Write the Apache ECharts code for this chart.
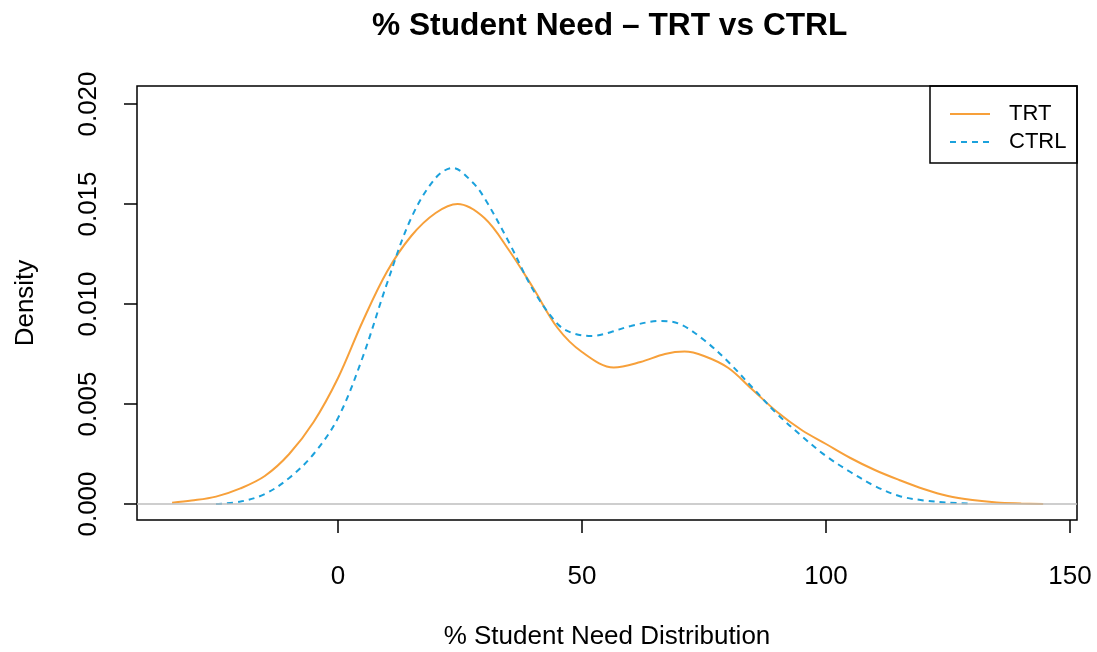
<!DOCTYPE html>
<html>
<head>
<meta charset="utf-8">
<script src="https://cdn.jsdelivr.net/npm/echarts@6/dist/echarts.min.js"></script>
<style>html,body{margin:0;padding:0;background:#fff}#c{width:1097px;height:652px}</style>
</head>
<body>
<div id="c"></div>
<script>
var trtX = [-34, -30, -25, -20, -15, -10, -5, 0, 5, 10, 15, 20, 24.5, 30, 35, 40, 45, 50, 56.5, 62, 67, 71, 75, 80, 85, 90, 95, 100, 105, 110, 115, 120, 125, 130, 135, 140, 144.5];
var trtY = [0.00006, 0.00017, 0.00037, 0.00078, 0.0014, 0.0025, 0.0041, 0.0063, 0.0091, 0.0116, 0.0134, 0.01455, 0.0150, 0.0143, 0.0127, 0.0108, 0.0088, 0.0076, 0.00683, 0.0071, 0.0075, 0.00762, 0.0074, 0.0068, 0.0057, 0.0046, 0.0037, 0.0030, 0.0023, 0.0017, 0.0012, 0.00075, 0.0004, 0.0002, 0.00008, 0.00003, 0.0];
var ctrlX = [-25, -20, -15, -10, -5, 0, 5, 10, 15, 20, 23.5, 27.5, 30, 35, 40, 45, 48, 52, 56, 60, 66, 70, 75, 80, 85, 90, 95, 100, 105, 110, 115, 120, 125, 130];
var ctrlY = [0.0, 0.00012, 0.0005, 0.0013, 0.0025, 0.0043, 0.0073, 0.0110, 0.0143, 0.0163, 0.0168, 0.0161, 0.0153, 0.0131, 0.0107, 0.0090, 0.00855, 0.0084, 0.0086, 0.0089, 0.00915, 0.0090, 0.0082, 0.0071, 0.0058, 0.0045, 0.0034, 0.0024, 0.0016, 0.0009, 0.0004, 0.00018, 0.00007, 0.00001];
var xTicks = [0, 50, 100, 150];
var yTicks = [0, 0.005, 0.010, 0.015, 0.020];
var seriesNames = ['TRT', 'CTRL'];
var FONT = "'Liberation Sans', Arial, sans-serif";

function pairs(xs, ys) { return xs.map(function (x, i) { return [x, ys[i]]; }); }

var chart = echarts.init(document.getElementById('c'), null, {renderer: 'canvas'});
chart.setOption({
  animation: false,
  backgroundColor: '#fff',
  title: {
    text: '% Student Need \u2013 TRT vs CTRL',
    left: 367, top: 5,
    textStyle: {fontFamily: FONT, fontSize: 31.7, fontWeight: 'bold', color: '#000'}
  },
  grid: {left: 137, right: 20, top: 86, bottom: 132, show: true, borderColor: '#000', borderWidth: 1.5,
    backgroundColor: 'transparent', containLabel: false, outerBoundsMode: 'none'},
  legend: {
    orient: 'vertical', left: 949, top: 103, padding: 0,
    itemWidth: 40, itemHeight: 14, itemGap: 6,
    itemStyle: {opacity: 0},
    data: seriesNames,
    textStyle: {fontFamily: FONT, fontSize: 22, lineHeight: 22, color: '#000', padding: [0, 0, 0, 14]}
  },
  graphic: [{type: 'rect', shape: {x: 930, y: 86, width: 147, height: 77}, style: {fill: 'none', stroke: '#000', lineWidth: 1.5}, z: 100}],
  xAxis: {
    type: 'value', min: -41.19, max: 151.43,
    name: '% Student Need Distribution', nameLocation: 'middle', nameGap: 104,
    nameTextStyle: {fontFamily: FONT, fontSize: 26, color: '#000'},
    axisLine: {show: false, onZero: false},
    axisTick: {show: true, length: 13, customValues: xTicks, lineStyle: {color: '#000', width: 1.5}},
    axisLabel: {customValues: xTicks, fontFamily: FONT, fontSize: 26, color: '#000', margin: 44},
    splitLine: {show: false}
  },
  yAxis: {
    type: 'value', min: -0.0008, max: 0.0209,
    name: 'Density', nameLocation: 'middle', nameGap: 98, nameRotate: 90,
    nameTextStyle: {fontFamily: FONT, fontSize: 26, color: '#000'},
    axisLine: {show: false, onZero: false},
    axisTick: {show: true, length: 13, customValues: yTicks, lineStyle: {color: '#000', width: 1.5}},
    axisLabel: {customValues: yTicks, rotate: 90, fontFamily: FONT, fontSize: 26, color: '#000', margin: 35,
      formatter: function (v) { return v.toFixed(3); }},
    splitLine: {show: false}
  },
  series: [
    {
      name: seriesNames[0], type: 'line', data: pairs(trtX, trtY), smooth: 0.35, symbol: 'none',
      lineStyle: {color: '#F7A03A', width: 2, type: 'solid'}, itemStyle: {color: '#F7A03A'},
      markLine: {silent: true, symbol: 'none', label: {show: false}, lineStyle: {color: '#BEBEBE', width: 1.5, type: 'solid'}, data: [{yAxis: 0}]},
      z: 3
    },
    {
      name: seriesNames[1], type: 'line', data: pairs(ctrlX, ctrlY), smooth: 0.35, symbol: 'none',
      lineStyle: {color: '#1BA1DC', width: 2, type: [6, 5]}, itemStyle: {color: '#1BA1DC'},
      z: 4
    }
  ]
});
</script>
</body>
</html>
